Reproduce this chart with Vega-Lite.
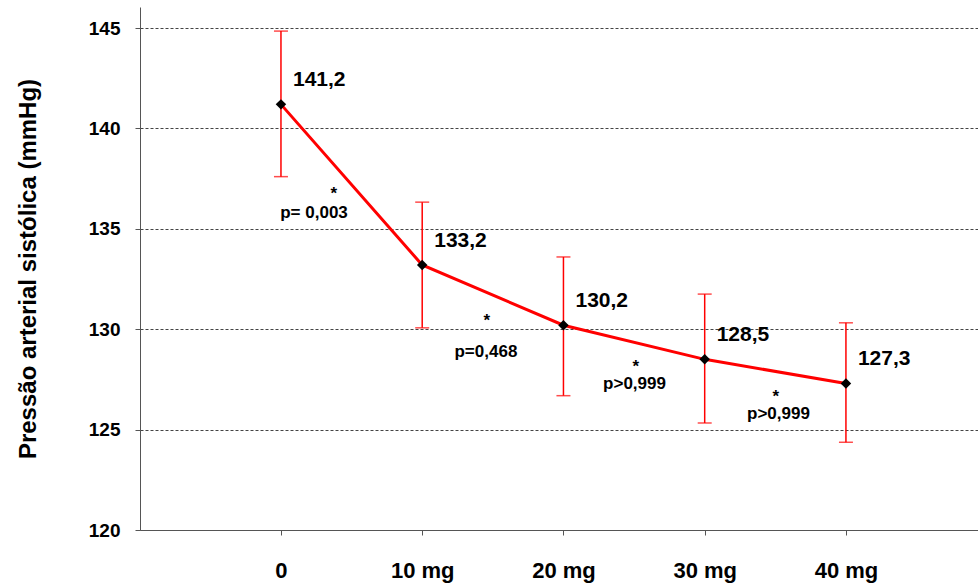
{
  "$schema": "https://vega.github.io/schema/vega-lite/v6.json",
  "width": 838,
  "height": 523,
  "autosize": {"type": "none"},
  "padding": {"left": 140, "top": 7, "right": 0, "bottom": 57},
  "background": "white",
  "config": {
    "view": {"stroke": null},
    "font": "Liberation Sans",
    "axisX": {"domainColor": "#555", "tickColor": "#555", "tickSize": 5, "labelPadding": 25, "labelFontSize": 22, "labelFontWeight": "bold", "labelColor": "#000", "grid": false, "title": null},
    "axisY": {"domainColor": "#555", "tickColor": "#555", "tickSize": 5, "labelPadding": 15, "labelFontSize": 19, "labelFontWeight": "bold", "labelColor": "#000", "gridColor": "#444", "gridDash": [3, 2], "gridWidth": 1, "titleFontSize": 24, "titleFontWeight": "bold", "titleColor": "#000", "titlePadding": 48}
  },
  "datasets": {
    "main": [
      {"dose": 0, "value": 141.2, "lo": 137.6, "hi": 144.85, "label": "141,2"},
      {"dose": 10, "value": 133.2, "lo": 130.07, "hi": 136.33, "label": "133,2"},
      {"dose": 20, "value": 130.2, "lo": 126.69, "hi": 133.6, "label": "130,2"},
      {"dose": 30, "value": 128.5, "lo": 125.33, "hi": 131.75, "label": "128,5"},
      {"dose": 40, "value": 127.3, "lo": 124.37, "hi": 130.32, "label": "127,3"}
    ],
    "notes": [
      {"dose": 3.75, "value": 136.73, "text": "*"},
      {"dose": 2.34, "value": 135.79, "text": "p= 0,003"},
      {"dose": 14.58, "value": 130.41, "text": "*"},
      {"dose": 14.51, "value": 128.86, "text": "p=0,468"},
      {"dose": 25.13, "value": 128.12, "text": "*"},
      {"dose": 25.03, "value": 127.27, "text": "p>0,999"},
      {"dose": 35.04, "value": 126.62, "text": "*"},
      {"dose": 35.22, "value": 125.78, "text": "p>0,999"}
    ]
  },
  "layer": [
    {
      "data": {"name": "main"},
      "mark": {"type": "rule", "color": "#ff0000", "strokeWidth": 1.5},
      "encoding": {
        "x": {"field": "dose", "type": "quantitative", "scale": {"domain": [-9.98, 49.35], "nice": false, "zero": false}, "axis": {"values": [0, 10, 20, 30, 40], "labelExpr": "datum.value == 0 ? '0' : datum.value + ' mg'"}},
        "y": {"field": "lo", "type": "quantitative", "title": "Pressão arterial sistólica (mmHg)", "scale": {"domain": [120, 146.05], "nice": false, "zero": false}, "axis": {"values": [120, 125, 130, 135, 140, 145], "grid": true}},
        "y2": {"field": "hi"}
      }
    },
    {
      "data": {"name": "main"},
      "mark": {"type": "tick", "color": "#ff0000", "size": 14, "thickness": 1.5, "orient": "horizontal"},
      "encoding": {
        "x": {"field": "dose", "type": "quantitative"},
        "y": {"field": "lo", "type": "quantitative", "title": "Pressão arterial sistólica (mmHg)"}
      }
    },
    {
      "data": {"name": "main"},
      "mark": {"type": "tick", "color": "#ff0000", "size": 14, "thickness": 1.5, "orient": "horizontal"},
      "encoding": {
        "x": {"field": "dose", "type": "quantitative"},
        "y": {"field": "hi", "type": "quantitative", "title": "Pressão arterial sistólica (mmHg)"}
      }
    },
    {
      "data": {"name": "main"},
      "mark": {"type": "line", "color": "#ff0000", "strokeWidth": 3},
      "encoding": {
        "x": {"field": "dose", "type": "quantitative"},
        "y": {"field": "value", "type": "quantitative", "title": "Pressão arterial sistólica (mmHg)"}
      }
    },
    {
      "data": {"name": "main"},
      "mark": {"type": "point", "shape": "diamond", "filled": true, "color": "#000", "size": 110, "opacity": 1},
      "encoding": {
        "x": {"field": "dose", "type": "quantitative"},
        "y": {"field": "value", "type": "quantitative", "title": "Pressão arterial sistólica (mmHg)"}
      }
    },
    {
      "data": {"name": "main"},
      "mark": {"type": "text", "align": "left", "baseline": "middle", "dx": 12, "dy": -24, "fontSize": 21, "fontWeight": "bold", "color": "#000"},
      "encoding": {
        "x": {"field": "dose", "type": "quantitative"},
        "y": {"field": "value", "type": "quantitative", "title": "Pressão arterial sistólica (mmHg)"},
        "text": {"field": "label"}
      }
    },
    {
      "data": {"name": "notes"},
      "mark": {"type": "text", "align": "center", "baseline": "middle", "fontSize": 17, "fontWeight": "bold", "color": "#000"},
      "encoding": {
        "x": {"field": "dose", "type": "quantitative"},
        "y": {"field": "value", "type": "quantitative", "title": "Pressão arterial sistólica (mmHg)"},
        "text": {"field": "text"}
      }
    }
  ]
}
